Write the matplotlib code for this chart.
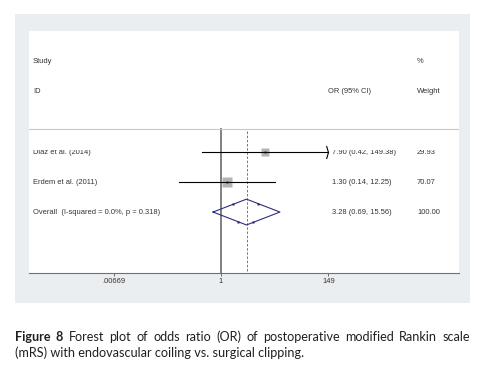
import numpy as np
import matplotlib
matplotlib.use("Agg")
import matplotlib.pyplot as plt
from matplotlib.path import Path
from matplotlib.patches import Rectangle
from matplotlib.transforms import Bbox, blended_transform_factory

# study data
studies = ["Diaz et al. (2014)", "Erdem et al. (2011)"]
or_est = [7.90, 1.30]
ci_low = [0.42, 0.14]
ci_high = [149.38, 12.25]
weights = [29.93, 70.07]
or_labels = ["7.90 (0.42, 149.38)", "1.30 (0.14, 12.25)"]
weight_labels = ["29.93", "70.07"]

overall_label = "Overall  (I-squared = 0.0%, p = 0.318)"
overall_or = 3.28
overall_ci = (0.69, 15.56)
overall_or_label = "3.28 (0.69, 15.56)"
overall_weight_label = "100.00"

xticks = [0.00669, 1, 149]
xtick_labels = [".00669", "1", "149"]

W, H = 482, 384
fig = plt.figure(figsize=(W / 100, H / 100), dpi=100)
fig.patch.set_facecolor("white")

# Stata style graph region
fig.patches.append(Rectangle((15 / W, 1 - 303 / H), 455 / W, 289 / H,
                             transform=fig.transFigure, facecolor="#EAEEF1",
                             edgecolor="none", zorder=-1))

ax = fig.add_axes([29 / W, 1 - 273 / H, 430 / W, 242 / H])
ax.set_zorder(1)
ax.set_facecolor("white")
ax.set_xscale("log")
ax.set_xlim(np.exp(-8.943), np.exp(11.085))
ax.set_ylim(5.03, -3.03)
for s in ["top", "left", "right"]:
    ax.spines[s].set_visible(False)
ax.spines["bottom"].set_color("#707070")
ax.spines["bottom"].set_linewidth(0.8)
ax.set_yticks([])
ax.set_xticks(xticks)
ax.set_xticklabels(xtick_labels)
ax.minorticks_off()
ax.tick_params(axis="x", direction="out", length=2.2, width=0.6, color="#555555",
               labelsize=5.4, labelcolor="#333333", pad=1.5)
for lab in ax.get_xticklabels():
    lab.set_family("Liberation Sans")

txt = dict(fontsize=5.4, family="Liberation Sans", color="#333333", va="center")
tr = blended_transform_factory(ax.transAxes, ax.transData)
col_x = [4 / 430, 303 / 430, 388 / 430]
head_or_x = 299 / 430

# headers
ax.text(col_x[0], -2, "Study", transform=tr, **txt)
ax.text(col_x[2], -2, "%", transform=tr, **txt)
ax.text(col_x[0], -1, "ID", transform=tr, **txt)
ax.text(head_or_x, -1, "OR (95% CI)", transform=tr, **txt)
ax.text(col_x[2], -1, "Weight", transform=tr, **txt)

ax.axhline(0.23, color="#C8C8C8", lw=0.8)

# null line and overall line
ax.plot([1, 1], [0.23, 5.03], color="#808080", lw=1.4, zorder=1)
ax.plot([overall_or, overall_or], [0.3, 5.03], color="#A04848", lw=0.6,
        ls=(0, (3, 2)), zorder=1)

xmax_ci = xticks[-1]
chevron = Path([(-0.3, 1), (0, 0), (-0.3, -1)],
               [Path.MOVETO, Path.LINETO, Path.LINETO])
clip = Bbox.from_extents(0, 0, W, H - 149.5)
for i, name in enumerate(studies):
    y = i + 1
    hi = min(ci_high[i], xmax_ci)
    ax.plot([ci_low[i], hi], [y, y], color="black", lw=0.8, zorder=3)
    if ci_high[i] > xmax_ci:
        ax.plot([hi], [y], marker=chevron, markersize=9.4, mfc="none",
                mec="black", mew=0.8, zorder=3)
    ax.plot([or_est[i]], [y], marker="s", markersize=0.944 * np.sqrt(weights[i]),
            color="#B4B4B4", mec="none", zorder=2)
    ax.plot([or_est[i]], [y], marker="s", markersize=1.3, color="black",
            mec="none", zorder=4)
    ts = [ax.text(col_x[0], y, name, transform=tr, **txt),
          ax.text(col_x[1], y, or_labels[i], transform=tr, **txt),
          ax.text(col_x[2], y, weight_labels[i], transform=tr, **txt)]
    if i == 0:
        for t in ts:
            t.set_clip_box(clip)
            t.set_clip_on(True)

# overall diamond
yo = 3
hh = 0.43
dx = [overall_ci[0], overall_or, overall_ci[1], overall_or, overall_ci[0]]
dy = [yo, yo - hh, yo, yo + hh, yo]
ax.plot(dx, dy, color="#2E2E7E", lw=0.8, zorder=3)
lx = np.log(dx)
for (a, b, f) in [(0, 1, 0.6), (1, 2, 0.35), (0, 3, 0.76), (2, 3, 0.8)]:
    px = np.exp(lx[a] + f * (lx[b] - lx[a]))
    py = dy[a] + f * (dy[b] - dy[a])
    ax.plot([px], [py], marker="s", markersize=1.6, color="#1E1E60",
            mec="none", zorder=4)
ax.text(col_x[0], yo, overall_label, transform=tr, **txt)
ax.text(col_x[1], yo, overall_or_label, transform=tr, **txt)
ax.text(col_x[2], yo, overall_weight_label, transform=tr, **txt)

# caption
cap_font = "Lato"
cap_color = "#231F20"
renderer = fig.canvas.get_renderer()
line2 = "(mRS) with endovascular coiling vs. surgical clipping."
probe = fig.text(0, 0, line2, fontsize=10, family=cap_font)
w2 = probe.get_window_extent(renderer).width
probe.remove()
cap_size = 10 * 287 / w2

words = [("Figure", "bold"), ("8", "bold")] + [(w, "normal") for w in
         "Forest plot of odds ratio (OR) of postoperative modified Rankin scale".split()]
objs = []
for w, wt in words:
    objs.append(fig.text(0, 1 - 341 / H, w, fontsize=cap_size, family=cap_font,
                         weight=wt, color=cap_color, va="baseline", ha="left"))
widths = [o.get_window_extent(renderer).width for o in objs]
gap = (455 - sum(widths)) / (len(words) - 1)
x = 15.0
for o, wd in zip(objs, widths):
    o.set_x(x / W)
    x += wd + gap
fig.text(15 / W, 1 - 357 / H, line2, fontsize=cap_size, family=cap_font,
         color=cap_color, va="baseline", ha="left")

fig.savefig("out.png", dpi=100, facecolor="white")
